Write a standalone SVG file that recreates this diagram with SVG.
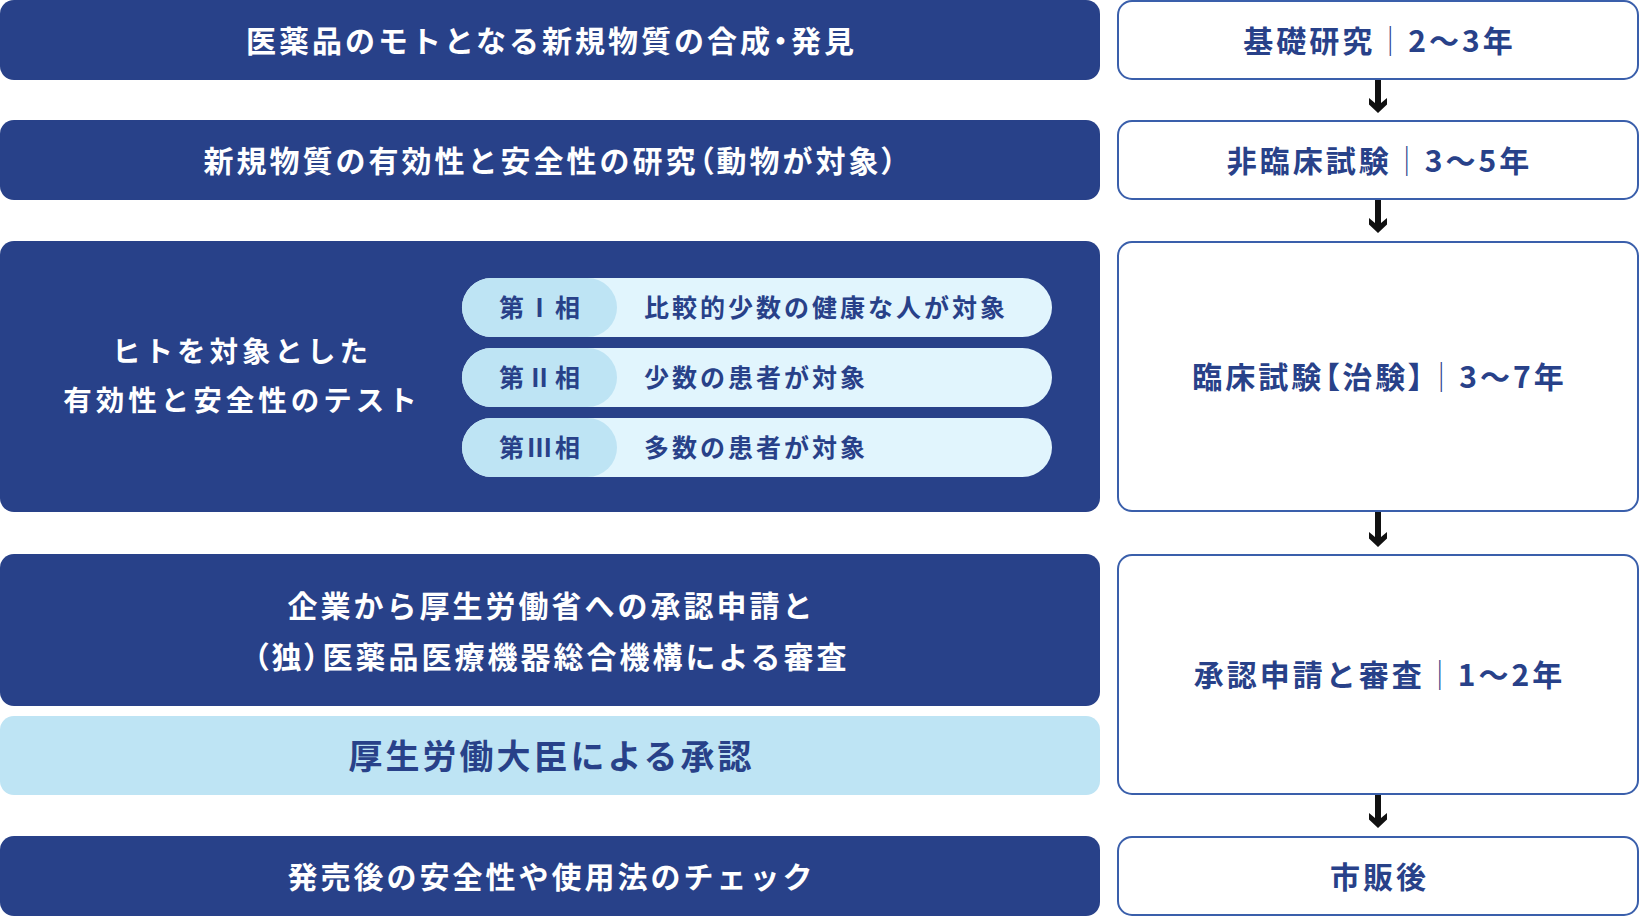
<svg xmlns="http://www.w3.org/2000/svg" width="1640" height="916" viewBox="0 0 1640 916">
  <style>
    .bar{fill:#284189}
    .light{fill:#bee4f4}
    .pill{fill:#e1f5fd}
    .tag{fill:#bee4f4}
    .box{fill:#ffffff;stroke:#3a5fab;stroke-width:2}
    .t{font-family:"Noto Sans CJK JP","Noto Sans",sans-serif;font-weight:700}
    .w{fill:#ffffff}
    .n{fill:#284189}
    .sep{font-weight:300}
    .p{font-feature-settings:"palt" 1}
    .conn{stroke:#111111;stroke-width:6;fill:none}
  </style>
  <defs>
    <marker id="ah" viewBox="0 0 15 18" refX="5" refY="9" markerWidth="15" markerHeight="18" markerUnits="userSpaceOnUse" orient="auto">
      <path d="M5,6 L0,0 L6.5,0 L15,9 L6.5,18 L0,18 L5,12 Z" fill="#111111"/>
    </marker>
  </defs>
  <rect width="1640" height="916" fill="#ffffff"/>

  <g id="step1">
    <rect class="bar" x="0" y="0" width="1100" height="80" rx="14"/>
    <text class="t w" x="551.5" y="52" text-anchor="middle" font-size="30" letter-spacing="3">医薬品のモトとなる新規物質の合成<tspan class="p">・</tspan>発見</text>
  </g>
  <g id="step2">
    <rect class="bar" x="0" y="120" width="1100" height="80" rx="14"/>
    <text class="t w" x="551.5" y="172" text-anchor="middle" font-size="30" letter-spacing="3">新規物質の有効性と安全性の研究<tspan class="p">（</tspan>動物が対象<tspan class="p">）</tspan></text>
  </g>
  <g id="step3">
    <rect class="bar" x="0" y="241" width="1100" height="271" rx="14"/>
    <text class="t w" font-size="28.5" letter-spacing="4" text-anchor="middle"><tspan x="242" y="362">ヒトを対象とした</tspan><tspan x="242" y="411">有効性と安全性のテスト</tspan></text>
    <g id="phase1">
      <rect class="pill" x="462" y="278" width="590" height="59" rx="29.5"/>
      <rect class="tag" x="462" y="278" width="155" height="59" rx="29.5"/>
      <text class="t n" x="541" y="317" text-anchor="middle" font-size="25" letter-spacing="3">第Ⅰ相</text>
      <text class="t n" x="644" y="317" font-size="25" letter-spacing="3">比較的少数の健康な人が対象</text>
    </g>
    <g id="phase2">
      <rect class="pill" x="462" y="348" width="590" height="59" rx="29.5"/>
      <rect class="tag" x="462" y="348" width="155" height="59" rx="29.5"/>
      <text class="t n" x="541" y="387" text-anchor="middle" font-size="25" letter-spacing="3">第Ⅱ相</text>
      <text class="t n" x="644" y="387" font-size="25" letter-spacing="3">少数の患者が対象</text>
    </g>
    <g id="phase3">
      <rect class="pill" x="462" y="418" width="590" height="59" rx="29.5"/>
      <rect class="tag" x="462" y="418" width="155" height="59" rx="29.5"/>
      <text class="t n" x="541" y="457" text-anchor="middle" font-size="25" letter-spacing="3">第Ⅲ相</text>
      <text class="t n" x="644" y="457" font-size="25" letter-spacing="3">多数の患者が対象</text>
    </g>
  </g>
  <g id="step4">
    <rect class="bar" x="0" y="554" width="1100" height="152" rx="14"/>
    <text class="t w" font-size="30" letter-spacing="3" text-anchor="middle"><tspan x="551.5" y="617">企業から厚生労働省への承認申請と</tspan><tspan x="551.5" y="667.5"><tspan class="p">（</tspan>独<tspan class="p">）</tspan>医薬品医療機器総合機構による審査</tspan></text>
  </g>
  <g id="step5">
    <rect class="light" x="0" y="716" width="1100" height="79" rx="14"/>
    <text class="t n" x="551.5" y="769" text-anchor="middle" font-size="34" letter-spacing="3">厚生労働大臣による承認</text>
  </g>
  <g id="step6">
    <rect class="bar" x="0" y="836" width="1100" height="80" rx="14"/>
    <text class="t w" x="551.5" y="888" text-anchor="middle" font-size="30" letter-spacing="3">発売後の安全性や使用法のチェック</text>
  </g>

  <g id="period1">
    <rect class="box" x="1118" y="1" width="520" height="78" rx="14"/>
    <text class="t n" x="1379.5" y="51.5" text-anchor="middle" font-size="30" letter-spacing="3">基礎研究<tspan class="sep">｜</tspan>2〜3年</text>
  </g>
  <g id="period2">
    <rect class="box" x="1118" y="121" width="520" height="78" rx="14"/>
    <text class="t n" x="1379.5" y="171.5" text-anchor="middle" font-size="30" letter-spacing="3">非臨床試験<tspan class="sep">｜</tspan>3〜5年</text>
  </g>
  <g id="period3">
    <rect class="box" x="1118" y="242" width="520" height="269" rx="14"/>
    <text class="t n" x="1379.5" y="388" text-anchor="middle" font-size="30" letter-spacing="3">臨床試験<tspan class="p">【</tspan>治験<tspan class="p">】</tspan><tspan class="sep">｜</tspan>3〜7年</text>
  </g>
  <g id="period4">
    <rect class="box" x="1118" y="555" width="520" height="239" rx="14"/>
    <text class="t n" x="1379.5" y="686" text-anchor="middle" font-size="30" letter-spacing="3">承認申請と審査<tspan class="sep">｜</tspan>1〜2年</text>
  </g>
  <g id="period5">
    <rect class="box" x="1118" y="837" width="520" height="78" rx="14"/>
    <text class="t n" x="1379.5" y="887.5" text-anchor="middle" font-size="30" letter-spacing="3">市販後</text>
  </g>

  <g id="connectors">
    <line class="conn" x1="1378" y1="80" x2="1378" y2="103" marker-end="url(#ah)"/>
    <line class="conn" x1="1378" y1="200" x2="1378" y2="223" marker-end="url(#ah)"/>
    <line class="conn" x1="1378" y1="512" x2="1378" y2="537" marker-end="url(#ah)"/>
    <line class="conn" x1="1378" y1="795" x2="1378" y2="818" marker-end="url(#ah)"/>
  </g>
</svg>
